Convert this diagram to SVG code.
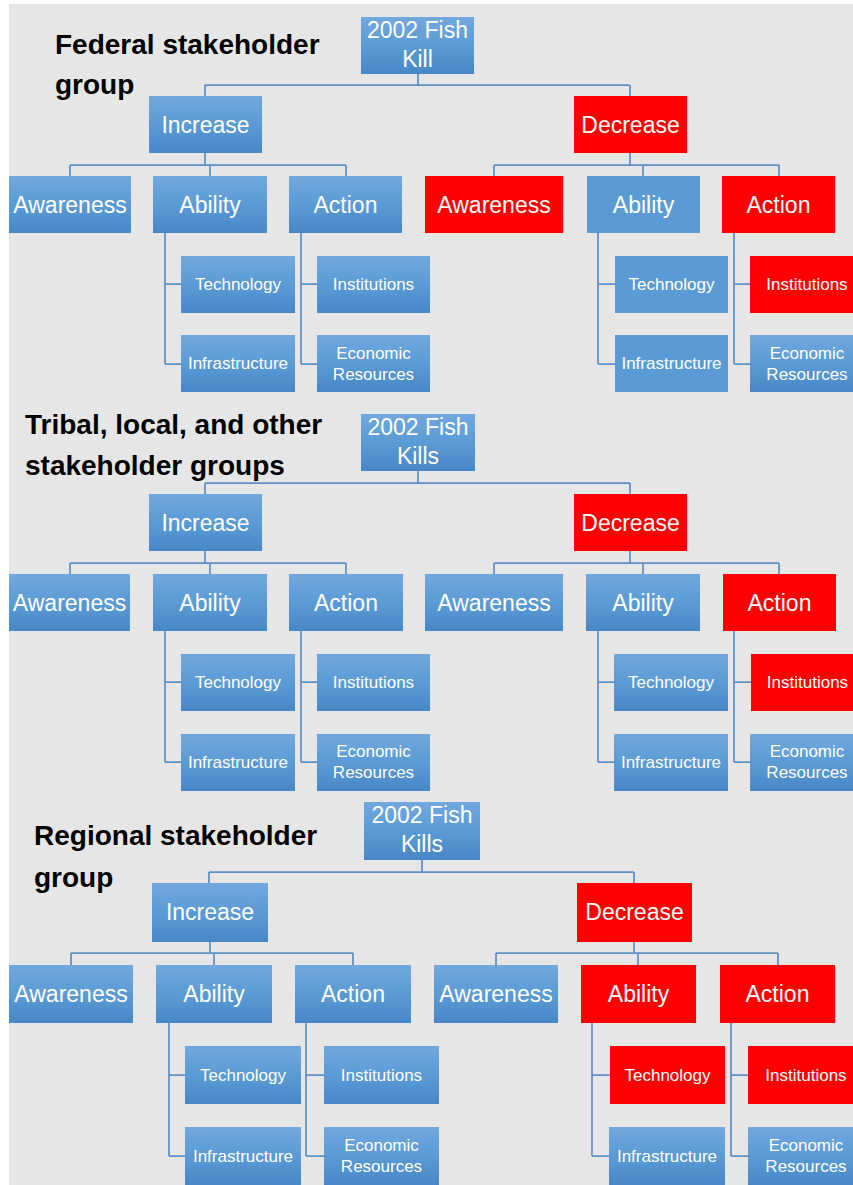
<svg xmlns="http://www.w3.org/2000/svg" width="853" height="1185" viewBox="0 0 853 1185">
<defs>
<linearGradient id="bg" x1="0" y1="0" x2="0" y2="1">
<stop offset="0" stop-color="#72a8de"/>
<stop offset="0.5" stop-color="#5b9bd5"/>
<stop offset="1" stop-color="#4787c7"/>
</linearGradient>
<style>
.g{fill:url(#bg)}
.f{fill:#5b9bd5}
.r{fill:#ff0000}
.t{font-family:"Liberation Sans",Arial,sans-serif;font-size:23px;fill:#ffffff;text-anchor:middle}
.s{font-family:"Liberation Sans",Arial,sans-serif;font-size:17px;fill:#ffffff;text-anchor:middle}
.h{font-family:"Liberation Sans",Arial,sans-serif;font-size:28px;font-weight:bold;fill:#000000}
.c{fill:none;stroke:#5f90c6;stroke-width:1.75}
</style>
</defs>
<rect x="0" y="0" width="853" height="1185" fill="#ffffff"/>
<rect x="9" y="4" width="844" height="1181" fill="#e6e6e6"/>

<g id="titles">
<text class="h" x="55" y="54">Federal stakeholder</text>
<text class="h" x="55" y="94">group</text>
<text class="h" x="25" y="434">Tribal, local, and other</text>
<text class="h" x="25" y="475">stakeholder groups</text>
<text class="h" x="34" y="845">Regional stakeholder</text>
<text class="h" x="34" y="887">group</text>
</g>

<g id="connectors">
<path class="c" d="M418 74V85M205 85H630M205 85V96M630 85V96"/>
<path class="c" d="M205 153V165M70 165H346M70 165V176M210 165V176M346 165V176"/>
<path class="c" d="M630 153V165M494 165H779M494 165V176M643 165V176M779 165V176"/>
<path class="c" d="M165 233V364M165 284H181M165 364H181M301 233V364M301 284H317M301 364H317"/>
<path class="c" d="M598 233V364M598 284H615M598 364H615M734 233V364M734 284H750M734 364H750"/>

<path class="c" d="M418 471V483M205 483H630M205 483V494M630 483V494"/>
<path class="c" d="M205 551V563M70 563H346M70 563V574M210 563V574M346 563V574"/>
<path class="c" d="M630 551V563M494 563H779M494 563V574M643 563V574M779 563V574"/>
<path class="c" d="M165 631V762M165 682H181M165 762H181M301 631V762M301 682H317M301 762H317"/>
<path class="c" d="M598 631V762M598 682H614M598 762H614M734 631V762M734 682H751M734 762H750"/>

<path class="c" d="M422 860V872M209 872H634M209 872V883M634 872V883"/>
<path class="c" d="M210 942V953M71 953H353M71 953V965M214 953V965M353 953V965"/>
<path class="c" d="M634 942V953M496 953H778M496 953V965M638 953V965M778 953V965"/>
<path class="c" d="M169 1023V1156M169 1075H185M169 1156H185M306 1023V1156M306 1075H324M306 1156H324"/>
<path class="c" d="M592 1023V1156M592 1075H610M592 1156H609M731 1023V1156M731 1075H748M731 1156H748"/>
</g>

<!-- Section 1 -->
<g id="s1-root"><rect class="g" x="361" y="17" width="113" height="57"/><text class="t" x="417.5" y="38">2002 Fish</text><text class="t" x="417.5" y="67">Kill</text></g>
<g id="s1-increase"><rect class="g" x="149" y="96" width="113" height="57"/><text class="t" x="205.5" y="133">Increase</text></g>
<g id="s1-decrease"><rect class="r" x="574" y="96" width="113" height="57"/><text class="t" x="630.5" y="133">Decrease</text></g>
<g id="s1-inc-awareness"><rect class="g" x="9" y="176" width="122" height="57"/><text class="t" x="70" y="213">Awareness</text></g>
<g id="s1-inc-ability"><rect class="g" x="153" y="176" width="114" height="57"/><text class="t" x="210" y="213">Ability</text></g>
<g id="s1-inc-action"><rect class="g" x="289" y="176" width="113" height="57"/><text class="t" x="345.5" y="213">Action</text></g>
<g id="s1-dec-awareness"><rect class="r" x="425" y="176" width="138" height="57"/><text class="t" x="494" y="213">Awareness</text></g>
<g id="s1-dec-ability"><rect class="f" x="587" y="176" width="113" height="57"/><text class="t" x="643.5" y="213">Ability</text></g>
<g id="s1-dec-action"><rect class="r" x="722" y="176" width="113" height="57"/><text class="t" x="778.5" y="213">Action</text></g>
<g id="s1-inc-technology"><rect class="g" x="181" y="256" width="114" height="57"/><text class="s" x="238" y="290">Technology</text></g>
<g id="s1-inc-infrastructure"><rect class="g" x="181" y="335" width="114" height="57"/><text class="s" x="238" y="369">Infrastructure</text></g>
<g id="s1-inc-institutions"><rect class="g" x="317" y="256" width="113" height="57"/><text class="s" x="373.5" y="290">Institutions</text></g>
<g id="s1-inc-economic"><rect class="g" x="317" y="335" width="113" height="57"/><text class="s" x="373.5" y="359">Economic</text><text class="s" x="373.5" y="380">Resources</text></g>
<g id="s1-dec-technology"><rect class="f" x="615" y="256" width="113" height="57"/><text class="s" x="671.5" y="290">Technology</text></g>
<g id="s1-dec-infrastructure"><rect class="f" x="615" y="335" width="113" height="57"/><text class="s" x="671.5" y="369">Infrastructure</text></g>
<g id="s1-dec-institutions"><rect class="r" x="750" y="256" width="114" height="57"/><text class="s" x="807" y="290">Institutions</text></g>
<g id="s1-dec-economic"><rect class="g" x="750" y="335" width="114" height="57"/><text class="s" x="807" y="359">Economic</text><text class="s" x="807" y="380">Resources</text></g>

<!-- Section 2 -->
<g id="s2-root"><rect class="g" x="361" y="414" width="114" height="57"/><text class="t" x="418" y="435">2002 Fish</text><text class="t" x="418" y="464">Kills</text></g>
<g id="s2-increase"><rect class="g" x="149" y="494" width="113" height="57"/><text class="t" x="205.5" y="531">Increase</text></g>
<g id="s2-decrease"><rect class="r" x="574" y="494" width="113" height="57"/><text class="t" x="630.5" y="531">Decrease</text></g>
<g id="s2-inc-awareness"><rect class="g" x="9" y="574" width="121" height="57"/><text class="t" x="69.5" y="611">Awareness</text></g>
<g id="s2-inc-ability"><rect class="g" x="153" y="574" width="114" height="57"/><text class="t" x="210" y="611">Ability</text></g>
<g id="s2-inc-action"><rect class="g" x="289" y="574" width="114" height="57"/><text class="t" x="346" y="611">Action</text></g>
<g id="s2-dec-awareness"><rect class="g" x="425" y="574" width="138" height="57"/><text class="t" x="494" y="611">Awareness</text></g>
<g id="s2-dec-ability"><rect class="g" x="586" y="574" width="114" height="57"/><text class="t" x="643" y="611">Ability</text></g>
<g id="s2-dec-action"><rect class="r" x="723" y="574" width="113" height="57"/><text class="t" x="779.5" y="611">Action</text></g>
<g id="s2-inc-technology"><rect class="g" x="181" y="654" width="114" height="57"/><text class="s" x="238" y="688">Technology</text></g>
<g id="s2-inc-infrastructure"><rect class="g" x="181" y="734" width="114" height="57"/><text class="s" x="238" y="768">Infrastructure</text></g>
<g id="s2-inc-institutions"><rect class="g" x="317" y="654" width="113" height="57"/><text class="s" x="373.5" y="688">Institutions</text></g>
<g id="s2-inc-economic"><rect class="g" x="317" y="734" width="113" height="57"/><text class="s" x="373.5" y="757">Economic</text><text class="s" x="373.5" y="778">Resources</text></g>
<g id="s2-dec-technology"><rect class="g" x="614" y="654" width="114" height="57"/><text class="s" x="671" y="688">Technology</text></g>
<g id="s2-dec-infrastructure"><rect class="g" x="614" y="734" width="114" height="57"/><text class="s" x="671" y="768">Infrastructure</text></g>
<g id="s2-dec-institutions"><rect class="r" x="751" y="654" width="113" height="57"/><text class="s" x="807.5" y="688">Institutions</text></g>
<g id="s2-dec-economic"><rect class="g" x="750" y="734" width="114" height="57"/><text class="s" x="807" y="757">Economic</text><text class="s" x="807" y="778">Resources</text></g>

<!-- Section 3 -->
<g id="s3-root"><rect class="g" x="364" y="802" width="116" height="58"/><text class="t" x="422" y="823">2002 Fish</text><text class="t" x="422" y="852">Kills</text></g>
<g id="s3-increase"><rect class="g" x="152" y="883" width="116" height="59"/><text class="t" x="210" y="920">Increase</text></g>
<g id="s3-decrease"><rect class="r" x="577" y="883" width="115" height="59"/><text class="t" x="634.5" y="920">Decrease</text></g>
<g id="s3-inc-awareness"><rect class="g" x="9" y="965" width="124" height="58"/><text class="t" x="71" y="1002">Awareness</text></g>
<g id="s3-inc-ability"><rect class="g" x="156" y="965" width="116" height="58"/><text class="t" x="214" y="1002">Ability</text></g>
<g id="s3-inc-action"><rect class="g" x="295" y="965" width="116" height="58"/><text class="t" x="353" y="1002">Action</text></g>
<g id="s3-dec-awareness"><rect class="g" x="434" y="965" width="124" height="58"/><text class="t" x="496" y="1002">Awareness</text></g>
<g id="s3-dec-ability"><rect class="r" x="581" y="965" width="115" height="58"/><text class="t" x="638.5" y="1002">Ability</text></g>
<g id="s3-dec-action"><rect class="r" x="720" y="965" width="115" height="58"/><text class="t" x="777.5" y="1002">Action</text></g>
<g id="s3-inc-technology"><rect class="g" x="185" y="1046" width="116" height="58"/><text class="s" x="243" y="1081">Technology</text></g>
<g id="s3-inc-infrastructure"><rect class="g" x="185" y="1127" width="116" height="58"/><text class="s" x="243" y="1162">Infrastructure</text></g>
<g id="s3-inc-institutions"><rect class="g" x="324" y="1046" width="115" height="58"/><text class="s" x="381.5" y="1081">Institutions</text></g>
<g id="s3-inc-economic"><rect class="g" x="324" y="1127" width="115" height="58"/><text class="s" x="381.5" y="1151">Economic</text><text class="s" x="381.5" y="1172">Resources</text></g>
<g id="s3-dec-technology"><rect class="r" x="610" y="1046" width="115" height="58"/><text class="s" x="667.5" y="1081">Technology</text></g>
<g id="s3-dec-infrastructure"><rect class="g" x="609" y="1127" width="116" height="58"/><text class="s" x="667" y="1162">Infrastructure</text></g>
<g id="s3-dec-institutions"><rect class="r" x="748" y="1046" width="116" height="58"/><text class="s" x="806" y="1081">Institutions</text></g>
<g id="s3-dec-economic"><rect class="g" x="748" y="1127" width="116" height="58"/><text class="s" x="806" y="1151">Economic</text><text class="s" x="806" y="1172">Resources</text></g>
</svg>
